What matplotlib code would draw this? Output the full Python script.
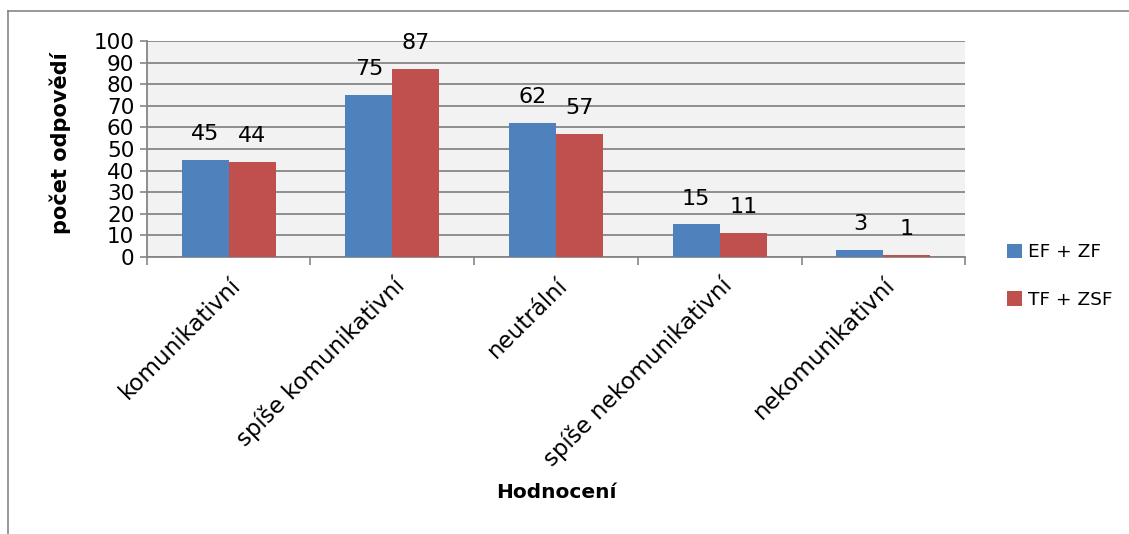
import matplotlib.pyplot as plt
import numpy as np

plt.rcParams['font.family'] = ['DejaVu Sans']

categories = ['komunikativní', 'spíše komunikativní', 'neutrální',
              'spíše nekomunikativní', 'nekomunikativní']
ef_zf = [45, 75, 62, 15, 3]
tf_zsf = [44, 87, 57, 11, 1]
series_names = ['EF + ZF', 'TF + ZSF']
colors = ['#4F81BD', '#C0504D']

fig = plt.figure(figsize=(11.29, 5.34), dpi=100)
ax = fig.add_axes([0.130, 0.519, 0.725, 0.404])
ax.set_facecolor('#F2F2F2')

x = np.arange(len(categories))
w = 0.287
b1 = ax.bar(x - w / 2, ef_zf, w, color=colors[0], label=series_names[0], zorder=3)
b2 = ax.bar(x + w / 2, tf_zsf, w, color=colors[1], label=series_names[1], zorder=3)

for bars in (b1, b2):
    ax.bar_label(bars, padding=11.5, fontsize=16)

ax.set_xlim(-0.5, len(categories) - 0.5)
ax.set_ylim(0, 100)
ax.set_yticks(range(0, 101, 10))
ax.tick_params(axis='y', labelsize=15.5, length=5, color='#868686', width=1.2, pad=4)

# ticks between categories, labels at centres
ax.set_xticks(np.arange(-0.5, len(categories)), minor=False)
ax.set_xticklabels([])
ax.set_xticks(x, minor=True)
ax.set_xticklabels(categories, minor=True, rotation=45, ha='right',
                   rotation_mode='anchor', fontsize=16.5)
ax.tick_params(axis='x', which='major', length=6, color='#868686', width=1.2)
ax.tick_params(axis='x', which='minor', length=0, pad=12)

ax.yaxis.grid(True, color='#868686', linewidth=1.3, zorder=0)
for s in ['top', 'right']:
    ax.spines[s].set_visible(False)
for s in ['left', 'bottom']:
    ax.spines[s].set_color('#868686')
    ax.spines[s].set_linewidth(1.3)

ax.set_ylabel('počet odpovědí', fontsize=15, fontweight='bold')
ax.yaxis.set_label_coords(-0.092, 0.525)
fig.text(0.493, 0.077, 'Hodnocení', fontsize=14.5, fontweight='bold', ha='center', va='center')

fig.legend(loc='center left', bbox_to_anchor=(0.877, 0.483), frameon=False,
           fontsize=13.3, handlelength=0.85, handleheight=0.85, handletextpad=0.3,
           labelspacing=1.6)

# outer chart border (only top and left visible)
fig.add_artist(plt.Line2D([0.007, 1.0], [0.980, 0.980], color='#868686', linewidth=1.2))
fig.add_artist(plt.Line2D([0.007, 0.007], [0.0, 0.980], color='#868686', linewidth=1.2))

fig.savefig('out.png', dpi=100)
